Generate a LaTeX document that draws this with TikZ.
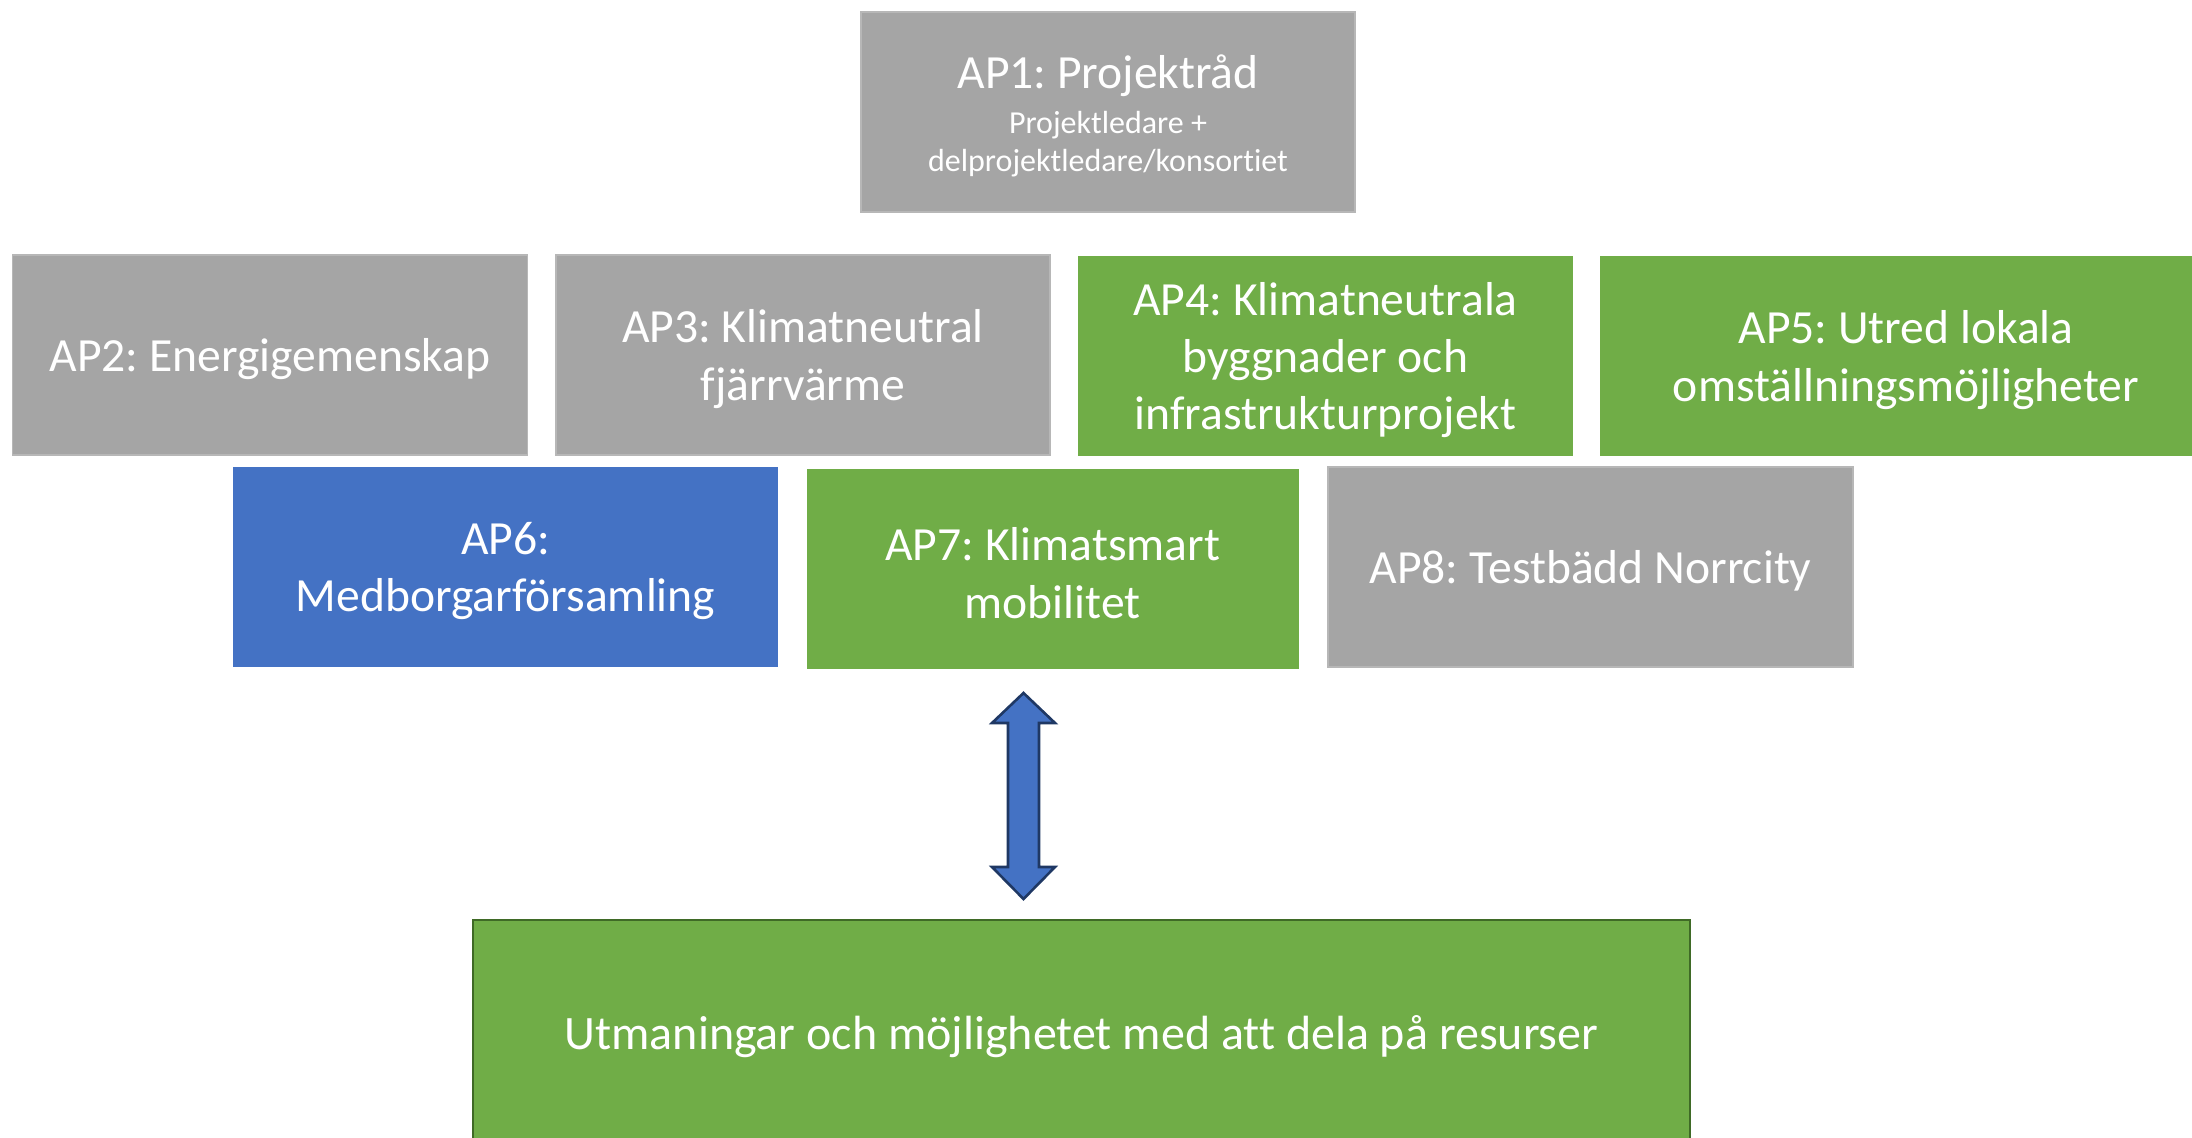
\documentclass[tikz,border=0pt]{standalone}
\usepackage{fontspec}
\setmainfont{Carlito}[Ligatures=NoCommon]
\definecolor{apgray}{HTML}{A5A5A5}
\definecolor{apgreen}{HTML}{70AD47}
\definecolor{apblue}{HTML}{4472C4}
\definecolor{apgreenline}{HTML}{3F6A26}
\definecolor{apnavy}{HTML}{1F3864}
\frenchspacing
\newcommand{\apnode}[6]{%
  \node[apbox=#4, #5] (#1) at (#2,#3) {};
  \node[aptext] (#1-text) at ([yshift=-2pt]#1.center) {#6};}
\begin{document}
\begin{tikzpicture}[x=0.5pt,y=-0.5pt,
  apbox/.style={minimum width=#1, inner sep=0pt, outer sep=0pt, minimum height=100pt},
  aptext/.style={text=white, align=center, inner sep=0pt, font=\fontsize{23.8}{28.7}\selectfont},
  grayfill/.style={fill=apgray, draw=apgray!80!white, line width=0.6pt},
  greenfill/.style={fill=apgreen},
  bluefill/.style={fill=apblue},
  arrowshape/.style={fill=apblue, draw=apnavy, line width=1.3pt, line join=miter}]
\useasboundingbox (0,0) rectangle (2192,1138);
\clip (0,0) rectangle (2192,1138);
% AP1
\node[apbox=247pt, grayfill] (ap1) at (1108,112) {};
\node[text=white, font=\fontsize{23.8}{28}\selectfont, inner sep=0pt] (ap1t) at (1108,76) {AP1: Projektråd};
\node[text=white, font=\fontsize{16}{19}\selectfont, align=center, inner sep=0pt] (ap1s) at (1108,144) {Projektledare +\\delprojektledare/konsortiet};
% Row 2
\apnode{ap2}{270}{355}{257.5pt}{grayfill}{AP2: Energigemenskap}
\apnode{ap3}{803}{355}{247pt}{grayfill}{AP3: Klimatneutral\\fjärrvärme}
\apnode{ap4}{1325.5}{356}{247.5pt}{greenfill}{AP4: Klimatneutrala\\byggnader och\\infrastrukturprojekt}
\apnode{ap5}{1906}{356}{306pt}{greenfill}{AP5: Utred lokala\\omställningsmöjligheter}
% Row 3
\apnode{ap6}{505.5}{567}{272.5pt}{bluefill}{AP6:\\Medborgarförsamling}
\apnode{ap7}{1052.7}{569}{246pt}{greenfill}{AP7: Klimatsmart\\mobilitet}
\apnode{ap8}{1590.5}{567}{262.5pt}{grayfill}{AP8: Testbädd Norrcity}
% Bottom box
\node[apbox=608.5pt, minimum height=115pt, fill=apgreen, draw=apgreenline, line width=1pt] (res) at (1081.5,1035) {};
\node[aptext, font=\fontsize{24}{28}\selectfont] (res-text) at ([yshift=-1pt]res.center) {Utmaningar och möjlighetet med att dela på resurser};
% Double arrow
\coordinate (atop) at (1023.5,693);
\coordinate (abot) at (1023.5,899);
\draw[arrowshape] (atop) -- (1055,723) -- (1039,723) -- (1039,867) -- (1055,867)
  -- (abot) -- (992,867) -- (1008,867) -- (1008,723) -- (992,723) -- cycle;
\end{tikzpicture}
\end{document}
